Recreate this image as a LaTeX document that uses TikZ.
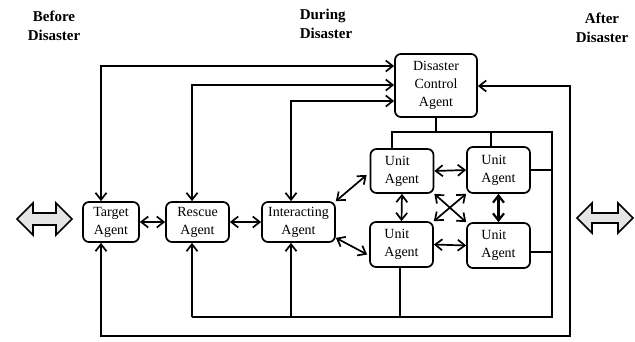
\documentclass[tikz,border=0pt]{standalone}
\usepackage{fontspec}
\setmainfont{Liberation Serif}
\usetikzlibrary{arrows.meta}

\begin{document}
\begin{tikzpicture}[x=1pt,y=-1pt,line width=1.7pt,
  >={Straight Barb[length=7pt,width=11pt]},
  agent/.style={draw,rounded corners=6pt,inner sep=1pt,align=center,
    font=\fontsize{14}{18}\selectfont},
  unit/.style={agent,align=left,minimum width=63pt,minimum height=45pt},
  head/.style={font=\bfseries\fontsize{15}{18.5}\selectfont,align=center},
  block/.style={draw,fill=gray!20,line join=miter}]
\useasboundingbox (0,0) rectangle (635,341);

% phases
\node[head] (before) at (54,26) {Before\\Disaster};
\node[head,align=left] (during) at (326,24) {During\\Disaster};
\node[head] (after) at (602,28) {After\\Disaster};
\draw[block] (17,219) -- ++(16,-16) -- ++(0,10) -- ++(23,0) -- ++(0,-10)
  -- ++(16,16) -- ++(-16,16) -- ++(0,-10) -- ++(-23,0) -- ++(0,10) -- cycle;
\draw[block] (577,218) -- ++(15,-15) -- ++(0,10) -- ++(26,0) -- ++(0,-10)
  -- ++(15,15) -- ++(-15,15) -- ++(0,-10) -- ++(-26,0) -- ++(0,10) -- cycle;

% agents
\node[agent,minimum width=82pt,minimum height=63pt] (dca) at (436,85.5) {Disaster\\Control\\Agent};
\node[agent,minimum width=56pt,minimum height=40pt] (target) at (111,222) {Target\\Agent};
\node[agent,minimum width=63pt,minimum height=40pt] (rescue) at (197.5,222) {Rescue\\Agent};
\node[agent,minimum width=73pt,minimum height=40pt] (inter) at (298.5,222) {Interacting\\Agent};
\node[unit,minimum height=44pt] (utl) at (402,171) {Unit\\Agent};
\node[unit,minimum height=46pt] (utr) at (498.5,170) {Unit\\Agent};
\node[unit] (ubl) at (401.5,244.5) {Unit\\Agent};
\node[unit] (ubr) at (498.5,245.5) {Unit\\Agent};

% loop corners
\coordinate (c1) at (101,66);
\coordinate (c2) at (192,85);
\coordinate (c3) at (291,101);
\coordinate (c4) at (570,86);
\coordinate (c5) at (570,336);
\coordinate (b1) at (392,132);
\coordinate (b2) at (552,132);
\coordinate (b3) at (552,317);
\coordinate (t2) at (491,132);
\coordinate (t3) at (400,317);
\coordinate (t4) at (552,252);

% outer loops
\draw[<->] (c1 |- target.north) -- (c1) -- (c1 -| dca.west);
\draw[<->] (c2 |- rescue.north) -- (c2) -- (c2 -| dca.west);
\draw[<->] (c3 |- inter.north) -- (c3) -- (c3 -| dca.west);
\draw[<->] (c4 -| dca.east) -- (c4) -- (c5) -- (c5 -| c1) -- (c1 |- target.south);

% unit bus
\draw (dca.south) -- (dca.south |- b1);
\draw (b1 |- utl.north) -- (b1) -- (b2) -- (b3) -- (b3 -| c2);
\draw (t2) -- (t2 |- utr.north);
\draw (utr.east) -- (utr.east -| b2);
\draw (t4 -| ubr.east) -- (t4);
\draw (t3 |- ubl.south) -- (t3);
\draw[->] (b3 -| c2) -- (c2 |- rescue.south);
\draw[->] (c3 |- b3) -- (c3 |- inter.south);

% links
\draw[<->] (target) -- (rescue);
\draw[<->] (rescue) -- (inter);
\draw[<->] (inter.north east) -- ([xshift=-3pt,yshift=-4pt]utl.west);
\draw[<->] ([yshift=5pt]inter.south east) -- ([xshift=-2pt,yshift=-10pt]ubl.west);
\draw[<->] (utl.east) -- (utr.west);
\draw[<->] (ubl.east) -- (ubr.west);
\draw[<->] (utl.south) -- (ubl.north);
\draw[<->,line width=2.2pt] (utr.south) -- (ubr.north);
\draw[<->] (utl.south east) -- (ubr.north west);
\draw[<->] (utr.south west) -- (ubl.north east);
\end{tikzpicture}
\end{document}
